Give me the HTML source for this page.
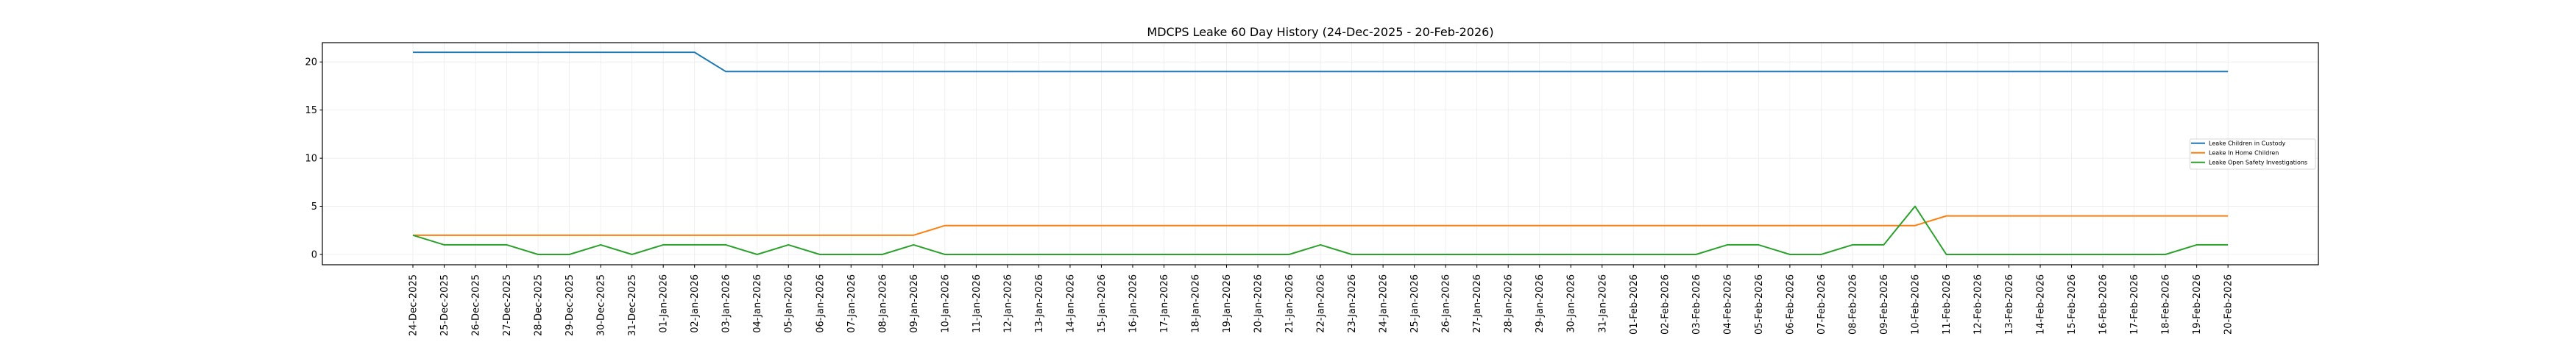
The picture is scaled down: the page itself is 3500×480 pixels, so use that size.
<!DOCTYPE html>
<html><head><meta charset="utf-8"><style>
html,body{margin:0;padding:0;background:#fff;}
svg{display:block;font-family:"DejaVu Sans","Liberation Sans",sans-serif;}
</style></head><body>
<svg width="3500" height="480" viewBox="0 0 3500 480" xmlns="http://www.w3.org/2000/svg">
<rect width="3500" height="480" fill="#fff"/>
<text x="1794" y="49" font-size="16" text-anchor="middle" fill="#000">MDCPS Leake 60 Day History (24-Dec-2025 - 20-Feb-2026)</text>
<!-- grid -->
<g stroke="#ebebeb" stroke-width="0.8">
<line x1="438" x2="3150" y1="346" y2="346"/><line x1="438" x2="3150" y1="280.55" y2="280.55"/><line x1="438" x2="3150" y1="215.1" y2="215.1"/><line x1="438" x2="3150" y1="149.65" y2="149.65"/><line x1="438" x2="3150" y1="84.2" y2="84.2"/>
</g>
<g id="vg" stroke="#ebebeb" stroke-width="0.8"></g>
<g transform="translate(561,0)" stroke="#ebebeb" stroke-width="0.8">
<path d="M0 58V360M42.52 58V360M85.04 58V360M127.56 58V360M170.08 58V360M212.6 58V360M255.12 58V360M297.64 58V360M340.16 58V360M382.68 58V360M425.2 58V360M467.72 58V360M510.24 58V360M552.76 58V360M595.28 58V360M637.8 58V360M680.32 58V360M722.84 58V360M765.36 58V360M807.88 58V360M850.4 58V360M892.92 58V360M935.44 58V360M977.96 58V360M1020.48 58V360M1063 58V360M1105.52 58V360M1148.04 58V360M1190.56 58V360M1233.08 58V360M1275.6 58V360M1318.12 58V360M1360.64 58V360M1403.16 58V360M1445.68 58V360M1488.2 58V360M1530.72 58V360M1573.24 58V360M1615.76 58V360M1658.28 58V360M1700.8 58V360M1743.32 58V360M1785.84 58V360M1828.36 58V360M1870.88 58V360M1913.4 58V360M1955.92 58V360M1998.44 58V360M2040.96 58V360M2083.48 58V360M2126 58V360M2168.52 58V360M2211.04 58V360M2253.56 58V360M2296.08 58V360M2338.6 58V360M2381.12 58V360M2423.64 58V360M2466.16 58V360"/>
</g>
<!-- series -->
<g transform="translate(561,346) scale(42.52,-13.09)" fill="none" stroke-width="2" stroke-linejoin="round">
<polyline vector-effect="non-scaling-stroke" stroke="#1f77b4" points="0,21 9,21 10,19 58,19"/>
<polyline vector-effect="non-scaling-stroke" stroke="#ff7f0e" points="0,2 16,2 17,3 48,3 49,4 58,4"/>
<polyline vector-effect="non-scaling-stroke" stroke="#2ca02c" points="0,2 1,1 2,1 3,1 4,0 5,0 6,1 7,0 8,1 9,1 10,1 11,0 12,1 13,0 14,0 15,0 16,1 17,0 28,0 29,1 30,0 41,0 42,1 43,1 44,0 45,0 46,1 47,1 48,5 49,0 56,0 57,1 58,1"/>
</g>
<!-- axes box -->
<rect x="438" y="58" width="2712" height="302" fill="none" stroke="#000" stroke-width="1.2"/>
<!-- y ticks -->
<g stroke="#000" stroke-width="1">
<path d="M434.5 346H438M434.5 280.55H438M434.5 215.1H438M434.5 149.65H438M434.5 84.2H438"/>
</g>
<g font-size="13" text-anchor="end" fill="#000">
<text x="431" y="350.5">0</text><text x="431" y="285">5</text><text x="431" y="219.6">10</text><text x="431" y="154.1">15</text><text x="431" y="88.7">20</text>
</g>
<!-- x ticks -->
<g transform="translate(561,0)" stroke="#000" stroke-width="1">
<path d="M0 360V364M42.52 360V364M85.04 360V364M127.56 360V364M170.08 360V364M212.6 360V364M255.12 360V364M297.64 360V364M340.16 360V364M382.68 360V364M425.2 360V364M467.72 360V364M510.24 360V364M552.76 360V364M595.28 360V364M637.8 360V364M680.32 360V364M722.84 360V364M765.36 360V364M807.88 360V364M850.4 360V364M892.92 360V364M935.44 360V364M977.96 360V364M1020.48 360V364M1063 360V364M1105.52 360V364M1148.04 360V364M1190.56 360V364M1233.08 360V364M1275.6 360V364M1318.12 360V364M1360.64 360V364M1403.16 360V364M1445.68 360V364M1488.2 360V364M1530.72 360V364M1573.24 360V364M1615.76 360V364M1658.28 360V364M1700.8 360V364M1743.32 360V364M1785.84 360V364M1828.36 360V364M1870.88 360V364M1913.4 360V364M1955.92 360V364M1998.44 360V364M2040.96 360V364M2083.48 360V364M2126 360V364M2168.52 360V364M2211.04 360V364M2253.56 360V364M2296.08 360V364M2338.6 360V364M2381.12 360V364M2423.64 360V364M2466.16 360V364"/>
</g>
<g font-size="13" text-anchor="end" fill="#000">
<text transform="translate(565.5,373) rotate(-90)">24-Dec-2025</text>
<text transform="translate(608,373) rotate(-90)">25-Dec-2025</text>
<text transform="translate(650.5,373) rotate(-90)">26-Dec-2025</text>
<text transform="translate(693.1,373) rotate(-90)">27-Dec-2025</text>
<text transform="translate(735.6,373) rotate(-90)">28-Dec-2025</text>
<text transform="translate(778.1,373) rotate(-90)">29-Dec-2025</text>
<text transform="translate(820.6,373) rotate(-90)">30-Dec-2025</text>
<text transform="translate(863.1,373) rotate(-90)">31-Dec-2025</text>
<text transform="translate(905.7,373) rotate(-90)">01-Jan-2026</text>
<text transform="translate(948.2,373) rotate(-90)">02-Jan-2026</text>
<text transform="translate(990.7,373) rotate(-90)">03-Jan-2026</text>
<text transform="translate(1033.2,373) rotate(-90)">04-Jan-2026</text>
<text transform="translate(1075.7,373) rotate(-90)">05-Jan-2026</text>
<text transform="translate(1118.3,373) rotate(-90)">06-Jan-2026</text>
<text transform="translate(1160.8,373) rotate(-90)">07-Jan-2026</text>
<text transform="translate(1203.3,373) rotate(-90)">08-Jan-2026</text>
<text transform="translate(1245.8,373) rotate(-90)">09-Jan-2026</text>
<text transform="translate(1288.3,373) rotate(-90)">10-Jan-2026</text>
<text transform="translate(1330.9,373) rotate(-90)">11-Jan-2026</text>
<text transform="translate(1373.4,373) rotate(-90)">12-Jan-2026</text>
<text transform="translate(1415.9,373) rotate(-90)">13-Jan-2026</text>
<text transform="translate(1458.4,373) rotate(-90)">14-Jan-2026</text>
<text transform="translate(1500.9,373) rotate(-90)">15-Jan-2026</text>
<text transform="translate(1543.5,373) rotate(-90)">16-Jan-2026</text>
<text transform="translate(1586,373) rotate(-90)">17-Jan-2026</text>
<text transform="translate(1628.5,373) rotate(-90)">18-Jan-2026</text>
<text transform="translate(1671,373) rotate(-90)">19-Jan-2026</text>
<text transform="translate(1713.5,373) rotate(-90)">20-Jan-2026</text>
<text transform="translate(1756.1,373) rotate(-90)">21-Jan-2026</text>
<text transform="translate(1798.6,373) rotate(-90)">22-Jan-2026</text>
<text transform="translate(1841.1,373) rotate(-90)">23-Jan-2026</text>
<text transform="translate(1883.6,373) rotate(-90)">24-Jan-2026</text>
<text transform="translate(1926.1,373) rotate(-90)">25-Jan-2026</text>
<text transform="translate(1968.7,373) rotate(-90)">26-Jan-2026</text>
<text transform="translate(2011.2,373) rotate(-90)">27-Jan-2026</text>
<text transform="translate(2053.7,373) rotate(-90)">28-Jan-2026</text>
<text transform="translate(2096.2,373) rotate(-90)">29-Jan-2026</text>
<text transform="translate(2138.7,373) rotate(-90)">30-Jan-2026</text>
<text transform="translate(2181.3,373) rotate(-90)">31-Jan-2026</text>
<text transform="translate(2223.8,373) rotate(-90)">01-Feb-2026</text>
<text transform="translate(2266.3,373) rotate(-90)">02-Feb-2026</text>
<text transform="translate(2308.8,373) rotate(-90)">03-Feb-2026</text>
<text transform="translate(2351.3,373) rotate(-90)">04-Feb-2026</text>
<text transform="translate(2393.9,373) rotate(-90)">05-Feb-2026</text>
<text transform="translate(2436.4,373) rotate(-90)">06-Feb-2026</text>
<text transform="translate(2478.9,373) rotate(-90)">07-Feb-2026</text>
<text transform="translate(2521.4,373) rotate(-90)">08-Feb-2026</text>
<text transform="translate(2563.9,373) rotate(-90)">09-Feb-2026</text>
<text transform="translate(2606.5,373) rotate(-90)">10-Feb-2026</text>
<text transform="translate(2649,373) rotate(-90)">11-Feb-2026</text>
<text transform="translate(2691.5,373) rotate(-90)">12-Feb-2026</text>
<text transform="translate(2734,373) rotate(-90)">13-Feb-2026</text>
<text transform="translate(2776.5,373) rotate(-90)">14-Feb-2026</text>
<text transform="translate(2819.1,373) rotate(-90)">15-Feb-2026</text>
<text transform="translate(2861.6,373) rotate(-90)">16-Feb-2026</text>
<text transform="translate(2904.1,373) rotate(-90)">17-Feb-2026</text>
<text transform="translate(2946.6,373) rotate(-90)">18-Feb-2026</text>
<text transform="translate(2989.1,373) rotate(-90)">19-Feb-2026</text>
<text transform="translate(3031.7,373) rotate(-90)">20-Feb-2026</text>
</g>
<!-- legend -->
<rect x="2975.5" y="189" width="170.5" height="41" rx="2" fill="#fff" fill-opacity="0.85" stroke="#cccccc" stroke-width="0.8"/>
<g stroke-width="2">
<line x1="2977" x2="2996" y1="194.7" y2="194.7" stroke="#1f77b4"/>
<line x1="2977" x2="2996" y1="207.7" y2="207.7" stroke="#ff7f0e"/>
<line x1="2977" x2="2996" y1="220.7" y2="220.7" stroke="#2ca02c"/>
</g>
<g font-size="8" fill="#000">
<text x="3001" y="197.6">Leake Children in Custody</text>
<text x="3001" y="210.6">Leake In Home Children</text>
<text x="3001" y="223.6">Leake Open Safety Investigations</text>
</g>
</svg>
</body></html>
